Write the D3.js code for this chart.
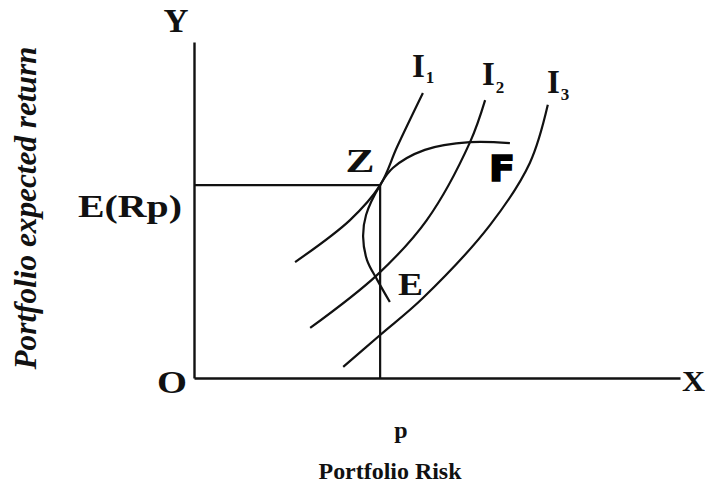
<!DOCTYPE html>
<html>
<head>
<meta charset="utf-8">
<script src="https://cdn.jsdelivr.net/npm/d3@7"></script>
<style>
  body { margin: 0; background: #fff; }
  text { font-family: "Liberation Serif", "Times New Roman", serif; font-weight: 700; fill: #111; }
</style>
</head>
<body>
<div id="chart"></div>
<script>
// points in (risk, return) units
var i1 = [[20.8, 34.5], [32.1, 47.0], [38.3, 57.4], [41.8, 68.8], [47.1, 84.8]];
var i2 = [[23.9, 14.9], [37.7, 30.7], [47.9, 47.0], [56.8, 70.2], [59.9, 82.7]];
var i3 = [[30.7, 3.3], [38.3, 12.8], [47.1, 23.8], [60.9, 45.5], [69.1, 64.0], [72.8, 81.3]];
var frontier = [[40.3, 22.6], [37.7, 29.2], [35.6, 35.1], [34.8, 42.0], [35.4, 48.5],
                [38.3, 57.4], [40.9, 62.5], [47.5, 67.9], [56.8, 70.2], [65.0, 69.9]];
var optimum = [38.3, 57.4];
var curveNames = ["1", "2", "3"];

var width = 705,
    height = 485;

var x = d3.scaleLinear().domain([0, 100]).range([194, 680]);
var y = d3.scaleLinear().domain([0, 100]).range([378, 42]);

var svg = d3.select("#chart")
    .append("svg")
    .attr("width", width)
    .attr("height", height);

// axes, no ticks
svg.append("g")
    .attr("transform", "translate(0," + y(0) + ")")
    .call(d3.axisBottom(x).ticks(0).tickSizeOuter(0));
svg.append("g")
    .attr("transform", "translate(" + x(0) + ",0)")
    .call(d3.axisLeft(y).ticks(0).tickSizeOuter(0));
svg.selectAll(".domain").attr("stroke", "#111").attr("stroke-width", 2.4);

// guide lines to Z
svg.append("path")
    .attr("d", "M" + x(0) + "," + y(optimum[1]) + "H" + x(optimum[0]) + "V" + y(0))
    .attr("fill", "none")
    .attr("stroke", "#111")
    .attr("stroke-width", 2.2);

var line = d3.line()
    .x(function(d) { return x(d[0]); })
    .y(function(d) { return y(d[1]); })
    .curve(d3.curveCatmullRom.alpha(0.5));

svg.selectAll(".curve")
    .data([i1, i2, i3, frontier])
    .enter().append("path")
    .attr("class", "curve")
    .attr("d", line)
    .attr("fill", "none")
    .attr("stroke", "#111")
    .attr("stroke-width", 2.2);

// indifference curve labels
var lab = [[412, 77, 83], [482, 85, 93], [547, 93, 100]];
curveNames.forEach(function(n, k) {
    var t = svg.append("text")
        .attr("x", lab[k][0])
        .attr("y", lab[k][1])
        .style("font-size", "33px")
        .text("I");
    t.append("tspan")
        .attr("y", lab[k][2])
        .attr("dx", 1)
        .style("font-size", "17px")
        .text(n);
});

function label(txt, px, py, size, anchor, len) {
    var t = svg.append("text")
        .attr("x", px)
        .attr("y", py)
        .attr("text-anchor", anchor || "start")
        .style("font-size", size + "px")
        .text(txt);
    if (len) t.attr("textLength", len).attr("lengthAdjust", "spacingAndGlyphs");
    return t;
}

label("Y", 176, 32, 34, "middle", 25);
label("X", 682, 391, 30, "start", 23);
label("O", 172, 393, 31, "middle", 30);
label("E(Rp)", 78, 217, 32, "start", 104);
label("Z", 360, 172, 34, "middle", 29);
label("E", 398, 295, 32, "start", 25);
label("p", 401, 438, 24, "middle");
label("Portfolio Risk", 390, 479, 24, "middle", 143);

// heavy sans F
label("F", 489, 181, 35, "start", 26)
    .style("font-family", "'DejaVu Sans', sans-serif")
    .style("font-weight", 900)
    .style("fill", "#000")
    .style("stroke", "#000")
    .style("stroke-width", "1.6px")
    .style("stroke-linejoin", "miter");

svg.append("text")
    .attr("transform", "translate(36,208) rotate(-90)")
    .attr("text-anchor", "middle")
    .attr("textLength", 323)
    .attr("lengthAdjust", "spacingAndGlyphs")
    .style("font-size", "31px")
    .style("font-style", "italic")
    .text("Portfolio expected return");
</script>
</body>
</html>
